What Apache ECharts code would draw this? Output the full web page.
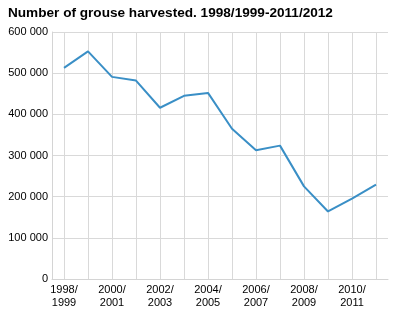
<!DOCTYPE html>
<html><head><meta charset="utf-8">
<script src="https://cdn.jsdelivr.net/npm/echarts@6/dist/echarts.min.js"></script>
<style>html,body{margin:0;padding:0;background:#fff}#c{width:400px;height:320px}</style>
</head><body><div id="c"></div>
<script>
var titleText = 'Number of grouse harvested. 1998/1999-2011/2012';
var categories = ['1998/1999','1999/2000','2000/2001','2001/2002','2002/2003','2003/2004','2004/2005','2005/2006','2006/2007','2007/2008','2008/2009','2009/2010','2010/2011','2011/2012'];
var values = [513000, 553000, 491000, 482000, 416000, 445000, 452000, 365000, 313000, 324000, 225000, 164000, 195000, 229000];
var yTicks = [0, 100000, 200000, 300000, 400000, 500000, 600000];

var chart = echarts.init(document.getElementById('c'));
chart.setOption({
  animation: false,
  title: {text: titleText, left: 3, top: 1, textStyle: {fontFamily: 'Liberation Sans, Arial', fontSize: 13.6, fontWeight: 'bold', color: '#000'}},
  grid: {left: 52, right: 12, top: 32, bottom: 41},
  xAxis: {
    type: 'category', data: categories, boundaryGap: true,
    axisLine: {show: true, lineStyle: {color: '#d4d4d4', width: 1}},
    axisTick: {show: false},
    splitLine: {show: true, alignWithLabel: true, interval: 0, lineStyle: {color: '#d9d9d9', width: 1}},
    axisLabel: {interval: 1, margin: 4, fontFamily: 'Liberation Sans, Arial', fontSize: 11, color: '#000', lineHeight: 13,
      formatter: function (v) { return v.replace('/', '/\n'); }}
  },
  yAxis: {
    type: 'value', min: yTicks[0], max: yTicks[yTicks.length - 1], interval: 100000,
    axisLine: {show: true, lineStyle: {color: '#d4d4d4'}},
    axisTick: {show: false},
    splitLine: {show: true, lineStyle: {color: '#d9d9d9', width: 1}},
    axisLabel: {margin: 4, fontFamily: 'Liberation Sans, Arial', fontSize: 11, color: '#000',
      formatter: function (v) { return v === 0 ? '0' : String(v).replace(/\B(?=(\d{3})+(?!\d))/g, ' '); }}
  },
  series: [{type: 'line', data: values, symbol: 'none', lineStyle: {color: '#3a8fc6', width: 2}, itemStyle: {color: '#3a8fc6'}}]
});
</script></body></html>
